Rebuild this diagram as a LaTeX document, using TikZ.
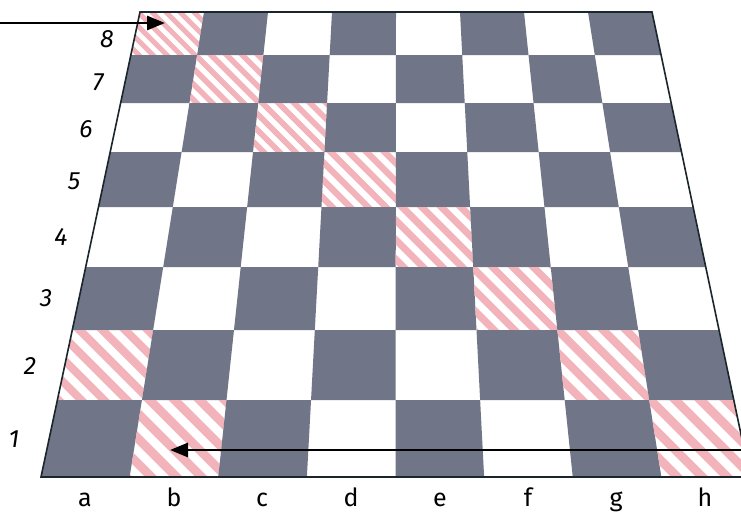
\documentclass[tikz,border=0pt]{standalone}
\usepackage{fontspec}
\setmainfont{Fira Sans}
\usetikzlibrary{arrows.meta}
\definecolor{darksq}{RGB}{112,117,135}
\definecolor{hatchpink}{RGB}{242,180,186}
\definecolor{edgecol}{RGB}{25,38,44}
\begin{document}
\begin{tikzpicture}[x=1pt,y=-1pt,
  lab/.style={font=\fontsize{25}{30}\selectfont, inner sep=0pt, anchor=base},
  rank/.style={lab, font=\fontsize{25}{30}\selectfont\itshape},
  pointer/.style={line width=2.8pt, black, -{Triangle[length=18pt,width=14pt]}},
  outline/.style={edgecol, line width=1.6pt, line join=miter}]
\useasboundingbox (0,0) rectangle (741,512);
\clip (0,0) rectangle (741,512);
\fill[white] (0,0) rectangle (741,512);
\foreach \i/\ya/\yb in {0/12/55,1/55/103,2/103/152,3/152/207,4/207/267,5/267/330,6/330/400,7/400/477}{
  \foreach \c in {0,...,7}{
    \pgfmathsetmacro{\la}{140-(\ya-12)/465*99}
    \pgfmathsetmacro{\wa}{512+(\ya-12)/465*197}
    \pgfmathsetmacro{\lb}{140-(\yb-12)/465*99}
    \pgfmathsetmacro{\wb}{512+(\yb-12)/465*197}
    \pgfmathsetmacro{\xaa}{\la+\c*\wa/8}
    \pgfmathsetmacro{\xab}{\la+(\c+1)*\wa/8}
    \pgfmathsetmacro{\xba}{\lb+\c*\wb/8}
    \pgfmathsetmacro{\xbb}{\lb+(\c+1)*\wb/8}
    \pgfmathtruncatemacro{\parity}{mod(\c+\i,2)}
    \def\hatchq{0}
    \ifnum\c=\i \def\hatchq{1}\fi
    \ifnum\c=0 \ifnum\i=6 \def\hatchq{1}\fi\fi
    \ifnum\c=1 \ifnum\i=7 \def\hatchq{1}\fi\fi
    \ifnum\parity=1
      \fill[darksq] (\xaa,\ya) -- (\xab,\ya) -- (\xbb,\yb) -- (\xba,\yb) -- cycle;
    \fi
    \ifnum\hatchq=1
      \begin{scope}
        \clip (\xaa,\ya) -- (\xab,\ya) -- (\xbb,\yb) -- (\xba,\yb) -- cycle;
        \pgfmathsetmacro{\per}{(\yb-\ya)*0.23}
        \pgfmathsetmacro{\hs}{\per*1.414}
        \pgfmathsetmacro{\lw}{\per*0.5}
        \pgfmathtruncatemacro{\kmin}{(\xba-\yb)/\hs-2}
        \pgfmathtruncatemacro{\kmax}{(\xab-\ya)/\hs+2}
        \foreach \k in {\kmin,...,\kmax}{
          \draw[hatchpink, line width=\lw pt] ({\k*\hs+\ya-8},{\ya-8}) -- ({\k*\hs+\yb+8},{\yb+8});
        }
      \end{scope}
    \fi
  }
}
\coordinate (TL) at (140,12);
\coordinate (TR) at (652,12);
\coordinate (BR) at (750,477);
\coordinate (BL) at (41,477);
\draw[outline] (TL) -- (TR) -- (BR) -- (BL) -- cycle;
% rank labels
\node[rank] (n8) at (107,47) {8};
\node[rank] (n7) at (98,90) {7};
\node[rank] (n6) at (86,137) {6};
\node[rank] (n5) at (74,189) {5};
\node[rank] (n4) at (61,245) {4};
\node[rank] (n3) at (46,306) {3};
\node[rank] (n2) at (30,374) {2};
\node[rank] (n1) at (14,447) {1};
% file labels
\node[lab] (la) at (85,506) {a};
\node[lab] (lb) at (174,506) {b};
\node[lab] (lc) at (262,506) {c};
\node[lab] (ld) at (351,506) {d};
\node[lab] (le) at (440,506) {e};
\node[lab] (lf) at (528,506) {f};
\node[lab] (lg) at (616,506) {g};
\node[lab] (lh) at (705,506) {h};
% pointers
\coordinate (s8) at (0,23);
\coordinate (t8) at (165,23);
\coordinate (s1) at (741,450);
\coordinate (t1) at (170,450);
\draw[pointer] (s8) -- (t8);
\draw[pointer] (s1) -- (t1);
\end{tikzpicture}
\end{document}
